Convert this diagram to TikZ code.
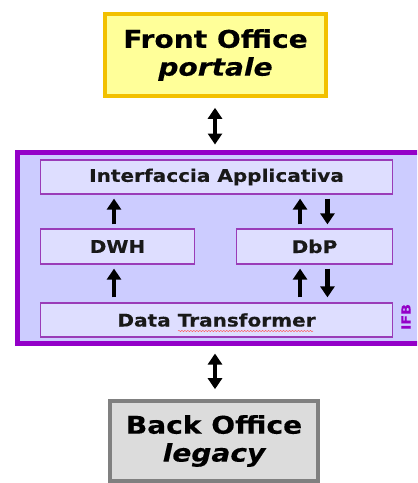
\documentclass[tikz,border=0pt]{standalone}
\usepackage{fontspec}
\setmainfont{DejaVu Sans}[FakeStretch=1.15,
  BoldFeatures={FakeBold=0.35}, BoldItalicFeatures={FakeBold=0.35}]
\usetikzlibrary{arrows.meta,decorations.pathmorphing}
\definecolor{gold}{HTML}{F2C000}
\definecolor{paleyellow}{HTML}{FFFF99}
\definecolor{ifbpurple}{HTML}{9400C8}
\definecolor{ifbfill}{HTML}{CCCCFF}
\definecolor{boxfill}{HTML}{DEDEFF}
\definecolor{boxline}{HTML}{9A3CB8}
\definecolor{greyline}{HTML}{808080}
\definecolor{greyfill}{HTML}{DCDCDC}
\tikzset{
  office/.style={draw, line width=4, inner sep=0, align=center, text=black,
    font=\bfseries\fontsize{24.5}{31}\selectfont},
  layer/.style={draw=boxline, fill=boxfill, line width=1.4, inner sep=0,
    text=black!90, font=\bfseries\fontsize{17.5}{20}\selectfont},
  arr/.style={line width=4.8, -{Triangle[length=11, width=14]}},
  darr/.style={line width=4.8, {Triangle[length=11, width=14]}-{Triangle[length=11, width=14]}},
}
\begin{document}
\begin{tikzpicture}[x=1bp, y=-1bp]
\useasboundingbox (0,0) rectangle (417,483);
\clip (0,0) rectangle (417,483);

% front office
\node[office, draw=gold, fill=paleyellow, minimum width=221, minimum height=82]
  (front) at (215.5,55) {Front Office\\[-3pt]\itshape portale};

% IFB container (its right side runs past the page edge)
\node[draw=ifbpurple, fill=ifbfill, line width=4.8, inner sep=0,
  minimum width=410, minimum height=191, anchor=north west] (ifb) at (15,150.5) {};
\node[rotate=90, text=ifbpurple, font=\bfseries\fontsize{12.5}{14}\selectfont]
  (ifblabel) at (406,317) {IFB};

% layers
\node[layer, minimum width=353, minimum height=34] (ia) at (216.5,177) {Interfaccia Applicativa};
\node[layer, minimum width=155, minimum height=35] (dwh) at (117.5,246.5) {DWH};
\node[layer, minimum width=157, minimum height=35] (dbp) at (314.5,246.5) {DbP};
\node[layer, minimum width=353, minimum height=34] (dt) at (216.5,320) {Data Transformer};

% spell-check squiggle under "Transformer"
\coordinate (sq1) at (178,331);
\coordinate (sq2) at (313,331);
\draw[red!65, line width=0.5, decorate,
  decoration={snake, amplitude=0.6, segment length=3}] (sq1) -- (sq2);

% data flow between layers
\draw[arr, shorten <=4, shorten >=4] ([xshift=-3.5]dwh.north) -- ([xshift=-3.5]dwh.north |- ia.south);
\draw[arr, shorten <=4, shorten >=4] ([xshift=-14.5]dbp.north) -- ([xshift=-14.5]dbp.north |- ia.south);
\draw[arr, shorten <=4, shorten >=4] ([xshift=13]dbp.north |- ia.south) -- ([xshift=13]dbp.north);

\draw[arr, shorten <=5, shorten >=4] ([xshift=-3.5]dwh.south |- dt.north) -- ([xshift=-3.5]dwh.south);
\draw[arr, shorten <=5, shorten >=4] ([xshift=-14.5]dbp.south |- dt.north) -- ([xshift=-14.5]dbp.south);
\draw[arr, shorten <=4, shorten >=5] ([xshift=13]dbp.south) -- ([xshift=13]dbp.south |- dt.north);

% back office
\node[office, draw=greyline, fill=greyfill, minimum width=208, minimum height=80]
  (back) at (214,441) {Back Office\\[-3pt]\itshape legacy};

% links to the outside
\draw[darr, shorten <=10, shorten >=6] ([xshift=-0.5]front.south) -- ([xshift=-0.5]front.south |- ifb.north);
\draw[darr, shorten <=8, shorten >=10] ([xshift=1]back.north |- ifb.south) -- ([xshift=1]back.north);
\end{tikzpicture}
\end{document}
